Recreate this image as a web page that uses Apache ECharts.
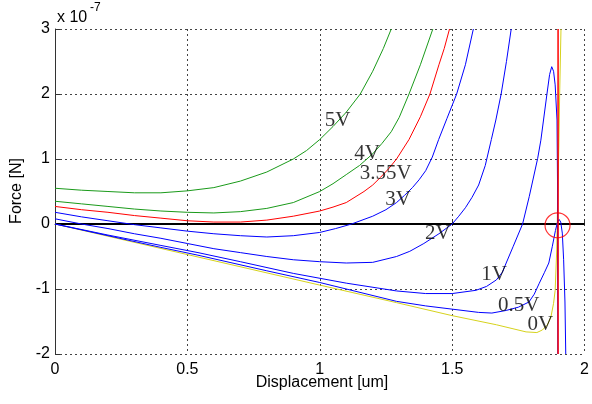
<!DOCTYPE html>
<html>
<head>
<meta charset="utf-8">
<script src="https://cdn.jsdelivr.net/npm/echarts@6/dist/echarts.min.js"></script>
<style>
html, body { margin: 0; padding: 0; background: #fff; }
#chart { width: 592px; height: 404px; }
</style>
</head>
<body>
<div id="chart"></div>
<script>
// displacement in um, force in units of 1e-7 N
const curve5V = [[0,0.55],[0.1,0.52],[0.2,0.5],[0.3,0.48],[0.4,0.48],[0.5,0.51],[0.6,0.56],[0.7,0.66],[0.8,0.8],[0.9,1.0],[0.95,1.13],[1.0,1.3],[1.05,1.5],[1.1,1.72],[1.153,2.0],[1.2,2.35],[1.24,2.7],[1.27,3.0]];
const curve4V = [[0,0.35],[0.1,0.31],[0.2,0.27],[0.3,0.23],[0.4,0.2],[0.5,0.18],[0.6,0.17],[0.7,0.19],[0.8,0.24],[0.9,0.33],[1.0,0.5],[1.05,0.62],[1.1,0.76],[1.15,0.9],[1.2,1.08],[1.235,1.24],[1.27,1.42],[1.3,1.64],[1.337,2.0],[1.38,2.45],[1.427,3.0]];
const curve355V = [[0,0.27],[0.1,0.22],[0.2,0.18],[0.3,0.13],[0.4,0.09],[0.5,0.05],[0.6,0.03],[0.7,0.03],[0.8,0.06],[0.9,0.12],[1.0,0.2],[1.05,0.26],[1.1,0.33],[1.167,0.5],[1.2,0.6],[1.23,0.72],[1.26,0.85],[1.29,1.0],[1.337,1.3],[1.38,1.65],[1.416,2.0],[1.45,2.45],[1.47,2.7],[1.49,3.0]];
const curve3V = [[0,0.18],[0.1,0.11],[0.2,0.05],[0.3,-0.01],[0.4,-0.06],[0.5,-0.11],[0.6,-0.15],[0.7,-0.18],[0.8,-0.2],[0.9,-0.18],[1.0,-0.13],[1.06,-0.07],[1.12,0.0],[1.2,0.12],[1.25,0.22],[1.29,0.33],[1.32,0.44],[1.35,0.56],[1.375,0.68],[1.4,0.82],[1.425,1.03],[1.449,1.3],[1.48,1.62],[1.517,2.0],[1.55,2.45],[1.58,3.0]];
const curve2V = [[0,0.08],[0.1,0.0],[0.2,-0.07],[0.3,-0.15],[0.4,-0.22],[0.5,-0.3],[0.6,-0.38],[0.7,-0.44],[0.8,-0.5],[0.9,-0.55],[1.0,-0.58],[1.1,-0.6],[1.2,-0.59],[1.29,-0.5],[1.34,-0.42],[1.393,-0.3],[1.45,-0.15],[1.5,0.0],[1.525,0.12],[1.55,0.25],[1.575,0.41],[1.6,0.6],[1.625,0.9],[1.648,1.3],[1.665,1.6],[1.685,2.0],[1.705,2.5],[1.723,3.0]];
const curve1V = [[0,0],[0.2,-0.17],[0.4,-0.33],[0.54,-0.44],[0.7,-0.58],[0.9,-0.76],[1.1,-0.91],[1.29,-1.03],[1.4,-1.07],[1.5,-1.07],[1.59,-1.02],[1.63,-0.96],[1.667,-0.86],[1.69,-0.74],[1.704,-0.6],[1.73,-0.35],[1.766,0.0],[1.791,0.42],[1.823,1.01],[1.835,1.29],[1.858,2.0],[1.868,2.3],[1.876,2.42],[1.883,2.35],[1.889,2.14],[1.896,1.6],[1.898,0.6],[1.899,-2.0]];
const curve05V = [[0,0],[0.2,-0.18],[0.4,-0.36],[0.54,-0.48],[0.8,-0.72],[1.0,-0.9],[1.29,-1.19],[1.4,-1.26],[1.5,-1.31],[1.6,-1.36],[1.65,-1.37],[1.704,-1.33],[1.75,-1.28],[1.79,-1.2],[1.81,-1.08],[1.828,-0.92],[1.848,-0.75],[1.865,-0.6],[1.878,-0.35],[1.89,-0.1],[1.898,0.03],[1.904,0.07],[1.91,0.03],[1.916,-0.14],[1.921,-0.55],[1.926,-1.2],[1.929,-2.0]];
const curve0V = [[0,0],[0.5,-0.47],[1.0,-0.94],[1.29,-1.21],[1.5,-1.41],[1.667,-1.55],[1.779,-1.66],[1.82,-1.67],[1.841,-1.63],[1.86,-1.55],[1.873,-1.43],[1.883,-1.22],[1.889,-1.02],[1.895,-0.4],[1.899,0.5],[1.903,1.2],[1.906,2.0],[1.911,3.0]];
const asymptote = [[1.9,3.0],[1.9,-2.0]];
const zeroLine = [[0,0],[2,0]];
const pullInPoint = [[1.898,-0.02]];

const curveLabels = [
    { text: '5V', at: [1.019, 1.6] },
    { text: '4V', at: [1.13, 1.09] },
    { text: '3.55V', at: [1.151, 0.78] },
    { text: '3V', at: [1.247, 0.38] },
    { text: '2V', at: [1.397, -0.15] },
    { text: '1V', at: [1.61, -0.78] },
    { text: '0.5V', at: [1.673, -1.26] },
    { text: '0V', at: [1.785, -1.54] }
];

const xTicks = { min: 0, max: 2, step: 0.5 };
const yTicks = { min: -2, max: 3, step: 1 };

const GREEN = '#1a9a1a', BLUE = '#0000ff', RED = '#ff0000', YELLOW = '#d6d21c';

function curve(name, data, color) {
    return {
        name: name,
        type: 'line',
        data: data,
        showSymbol: false,
        symbol: 'none',
        lineStyle: { color: color, width: 1 },
        z: 3
    };
}

const gridLine = { show: true, lineStyle: { color: '#444', width: 1, type: [2, 3] } };
const axisFont = { fontFamily: 'Liberation Sans', fontSize: 16, color: '#000' };

let chart = echarts.init(document.getElementById('chart'));
chart.setOption({
    animation: false,
    grid: { left: 55, right: 2, top: 29, bottom: 50 },
    xAxis: {
        type: 'value',
        min: xTicks.min, max: xTicks.max, interval: xTicks.step,
        axisLine: { show: true, lineStyle: { color: '#333', width: 1 } },
        axisTick: { show: true, inside: true, length: 5, lineStyle: { color: '#333' } },
        axisLabel: Object.assign({ margin: 8 }, axisFont),
        splitLine: gridLine
    },
    yAxis: {
        type: 'value',
        min: yTicks.min, max: yTicks.max, interval: yTicks.step,
        axisLine: { show: true, lineStyle: { color: '#333', width: 1 } },
        axisTick: { show: true, inside: true, length: 5, lineStyle: { color: '#333' } },
        axisLabel: Object.assign({ margin: 5 }, axisFont),
        splitLine: gridLine
    },
    graphic: [
        { type: 'text', left: 57, top: 10, style: { text: 'x 10', font: '16px "Liberation Sans"', fill: '#000' } },
        { type: 'text', left: 90, top: 2, style: { text: '-7', font: '12px "Liberation Sans"', fill: '#000' } },
        { type: 'text', x: 17, y: 191, rotation: Math.PI / 2,
          style: { text: 'Force [N]', font: '16px "Liberation Sans"', fill: '#000', align: 'center', verticalAlign: 'middle' } },
        { type: 'text', x: 322, y: 383,
          style: { text: 'Displacement [um]', font: '16px "Liberation Sans"', fill: '#000', align: 'center', verticalAlign: 'middle' } }
    ],
    series: [
        {
            type: 'line', data: zeroLine, showSymbol: false, symbol: 'none',
            lineStyle: { color: '#000', width: 2 }, z: 2
        },
        curve('0V', curve0V, YELLOW),
        curve('0.5V', curve05V, BLUE),
        curve('1V', curve1V, BLUE),
        curve('2V', curve2V, BLUE),
        curve('3V', curve3V, BLUE),
        curve('3.55V', curve355V, RED),
        curve('4V', curve4V, GREEN),
        curve('5V', curve5V, GREEN),
        {
            type: 'line', data: asymptote, showSymbol: false, symbol: 'none',
            lineStyle: { color: RED, width: 1.5 }, z: 4
        },
        {
            type: 'scatter', data: pullInPoint, symbol: 'circle', symbolSize: 25,
            itemStyle: { color: 'rgba(0,0,0,0)', borderColor: RED, borderWidth: 1.2 }, z: 5
        },
        {
            type: 'scatter',
            data: curveLabels.map(l => ({ value: l.at, name: l.text })),
            symbolSize: 0,
            label: {
                show: true, position: 'right', distance: 0,
                formatter: p => p.name,
                fontFamily: 'Liberation Serif', fontSize: 21, color: '#000'
            },
            z: 6
        }
    ]
});
</script>
</body>
</html>
